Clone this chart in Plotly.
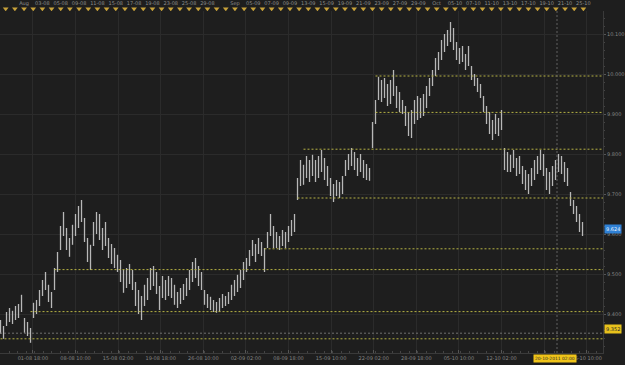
import plotly.graph_objects as go

# ---------------- data ----------------
highs = [9.385, 9.370, 9.405, 9.415, 9.408, 9.420, 9.425, 9.448, 9.390, 9.380,
         9.365, 9.428, 9.435, 9.460, 9.485, 9.505, 9.473, 9.455, 9.515, 9.555,
         9.620, 9.655, 9.615, 9.590, 9.623, 9.650, 9.670, 9.685, 9.640, 9.590,
         9.573, 9.630, 9.655, 9.650, 9.615, 9.630, 9.590, 9.575, 9.565, 9.548,
         9.535, 9.510, 9.515, 9.525, 9.510, 9.480, 9.460, 9.445, 9.473, 9.490,
         9.515, 9.520, 9.505, 9.470, 9.495, 9.485, 9.495, 9.490, 9.473, 9.455,
         9.465, 9.475, 9.490, 9.510, 9.530, 9.540, 9.520, 9.505, 9.460, 9.450,
         9.443, 9.435, 9.430, 9.440, 9.450, 9.445, 9.455, 9.473, 9.485, 9.498,
         9.510, 9.530, 9.540, 9.560, 9.585, 9.575, 9.590, 9.580, 9.565, 9.605,
         9.650, 9.620, 9.605, 9.595, 9.610, 9.605, 9.620, 9.635, 9.650, 9.740,
         9.785, 9.773, 9.795, 9.785, 9.798, 9.785, 9.795, 9.810, 9.790, 9.770,
         9.740, 9.725, 9.735, 9.730, 9.745, 9.785, 9.800, 9.815, 9.805, 9.790,
         9.800, 9.785, 9.775, 9.765, 9.880, 9.935, 9.993, 9.985, 9.990, 9.975,
         9.985, 10.010, 9.970, 9.955, 9.935, 9.920, 9.905, 9.910, 9.935, 9.945,
         9.940, 9.950, 9.970, 9.990, 10.010, 10.040, 10.055, 10.085, 10.100, 10.110,
         10.130, 10.115, 10.080, 10.065, 10.070, 10.050, 10.070, 10.020, 10.000, 9.990,
         9.975, 9.945, 9.920, 9.905, 9.885, 9.900, 9.890, 9.910, 9.815, 9.805,
         9.798, 9.810, 9.790, 9.795, 9.770, 9.760, 9.750, 9.765, 9.785, 9.795,
         9.810, 9.800, 9.765, 9.755, 9.770, 9.785, 9.800, 9.795, 9.780, 9.765,
         9.705, 9.685, 9.670, 9.650, 9.630]
lows = [9.350, 9.338, 9.370, 9.380, 9.375, 9.385, 9.390, 9.405, 9.353, 9.345,
        9.328, 9.390, 9.400, 9.420, 9.445, 9.460, 9.430, 9.415, 9.460, 9.505,
        9.560, 9.595, 9.560, 9.543, 9.573, 9.595, 9.615, 9.630, 9.580, 9.530,
        9.510, 9.570, 9.600, 9.585, 9.560, 9.570, 9.540, 9.525, 9.515, 9.505,
        9.480, 9.453, 9.465, 9.475, 9.460, 9.420, 9.400, 9.385, 9.420, 9.435,
        9.460, 9.470, 9.450, 9.410, 9.440, 9.435, 9.445, 9.440, 9.423, 9.415,
        9.425, 9.435, 9.445, 9.460, 9.480, 9.490, 9.470, 9.460, 9.423, 9.415,
        9.410, 9.405, 9.403, 9.405, 9.415, 9.420, 9.425, 9.435, 9.445, 9.455,
        9.465, 9.485, 9.505, 9.520, 9.545, 9.530, 9.550, 9.545, 9.505, 9.565,
        9.595, 9.565, 9.565, 9.560, 9.570, 9.565, 9.580, 9.595, 9.605, 9.685,
        9.720, 9.723, 9.740, 9.730, 9.745, 9.730, 9.740, 9.755, 9.735, 9.720,
        9.695, 9.680, 9.695, 9.690, 9.700, 9.745, 9.760, 9.770, 9.760, 9.745,
        9.755, 9.740, 9.735, 9.733, 9.815, 9.875, 9.935, 9.930, 9.940, 9.920,
        9.925, 9.945, 9.915, 9.905, 9.900, 9.870, 9.845, 9.840, 9.875, 9.885,
        9.890, 9.895, 9.915, 9.945, 9.970, 9.995, 10.010, 10.035, 10.055, 10.070,
        10.080, 10.060, 10.035, 10.025, 10.030, 10.010, 10.020, 9.985, 9.970, 9.955,
        9.940, 9.905, 9.875, 9.850, 9.835, 9.850, 9.845, 9.860, 9.760, 9.755,
        9.755, 9.765, 9.745, 9.750, 9.725, 9.710, 9.700, 9.720, 9.735, 9.750,
        9.760, 9.745, 9.710, 9.700, 9.720, 9.735, 9.755, 9.750, 9.730, 9.720,
        9.670, 9.650, 9.630, 9.605, 9.595]

level_prices = [9.995, 9.904, 9.812, 9.690, 9.563, 9.511, 9.406, 9.338]
level_start_bar = [125, 125, 101, 99, 88, 18, 10, 0]

bottom_tick_bars = [10.8, 25.0, 39.2, 53.4, 67.6, 81.8, 96.0, 110.2, 124.4,
                    138.6, 152.8, 167.0, 181.2, 195.4]
bottom_tick_text = ["01-08 18:00", "08-08 10:00", "15-08 02:00", "19-08 18:00",
                    "26-08 10:00", "02-09 02:00", "08-09 18:00", "15-09 10:00",
                    "22-09 02:00", "28-09 18:00", "05-10 10:00", "12-10 02:00",
                    "", "26-10 10:00"]

price_ticks = [9.4, 9.5, 9.6, 9.7, 9.8, 9.9, 10.0, 10.1]
price_tick_text = ["9.400", "9.500", "9.600", "9.700", "9.800", "9.900", "10.000", "10.100"]

top_label_days = [2, 4, 6, 8, 10, 12, 14, 16, 18, 20, 22, 25, 27, 29, 31, 33, 35,
                  37, 39, 41, 43, 45, 47, 49, 51, 53, 55, 57, 59, 61, 63]
top_label_text = ["Aug", "03-08", "05-08", "09-08", "11-08", "15-08", "17-08", "19-08",
                  "23-08", "25-08", "29-08", "Sep", "05-09", "07-09", "09-09", "13-09",
                  "15-09", "19-09", "21-09", "23-09", "27-09", "29-09", "Oct", "05-10",
                  "07-10", "11-10", "13-10", "17-10", "19-10", "21-10", "25-10"]
marker_days = list(range(64))

last_price = 9.624
cross_price = 9.352
cross_bar = 185.5
cross_label = "20-10-2011 02:00"

# ---------------- figure ----------------
BG = "#1e1e1e"
GRID = "#2b2b2b"
TXT = "#858585"
FONT = "DejaVu Sans"

x_range = [-0.17, 200.83]
y_range = [9.3025, 10.1575]

fig = go.Figure()

# price bars (high-low vertical lines)
bx, by = [], []
for i, (h, l) in enumerate(zip(highs, lows)):
    bx += [i, i, None]
    by += [h, l, None]
fig.add_trace(go.Scatter(x=bx, y=by, mode="lines",
                         line=dict(color="#b8b8b8", width=1.3),
                         hoverinfo="skip", showlegend=False))

# support / resistance levels
for p, s in zip(level_prices, level_start_bar):
    fig.add_trace(go.Scatter(x=[s, x_range[1]], y=[p, p], mode="lines",
                             line=dict(color="#b6b244", width=1, dash="2px,2px"),
                             hoverinfo="skip", showlegend=False))

# crosshair
fig.add_trace(go.Scatter(x=[x_range[0], x_range[1]], y=[cross_price, cross_price],
                         mode="lines", line=dict(color="#707070", width=1, dash="2px,2px"),
                         hoverinfo="skip", showlegend=False))
fig.add_trace(go.Scatter(x=[cross_bar, cross_bar], y=y_range,
                         mode="lines", line=dict(color="#606060", width=1, dash="2px,2px"),
                         hoverinfo="skip", showlegend=False))

# top date strip
fig.add_trace(go.Scatter(x=marker_days, y=[0.2] * len(marker_days), mode="markers",
                         marker=dict(symbol="triangle-down", size=5, color="#c8a23a",
                                     line=dict(width=0)),
                         xaxis="x2", yaxis="y2", hoverinfo="skip", showlegend=False))
fig.add_trace(go.Scatter(x=top_label_days, y=[0.66] * len(top_label_days), mode="text",
                         text=top_label_text,
                         textfont=dict(family=FONT, size=5, color="#8c8c8c"),
                         xaxis="x2", yaxis="y2", hoverinfo="skip", showlegend=False))

PLOT_H = 353.0
top_frac = 342.0 / PLOT_H

fig.update_layout(
    width=625, height=365,
    margin=dict(l=0, r=22, t=0, b=12),
    paper_bgcolor=BG, plot_bgcolor=BG,
    showlegend=False,
    font=dict(family=FONT, size=5, color=TXT),
    xaxis=dict(range=x_range, domain=[0, 1], tickvals=bottom_tick_bars,
               ticktext=bottom_tick_text, showgrid=True, gridcolor=GRID, gridwidth=1,
               zeroline=False, showline=True, linecolor="#3a3a3a",
               ticks="inside", ticklen=3, tickcolor="#555555",
               minor=dict(ticks="inside", ticklen=2, tickcolor="#444444", dtick=2.84,
                          showgrid=False),
               tickfont=dict(family=FONT, size=5, color=TXT), fixedrange=True),
    yaxis=dict(range=y_range, domain=[0, top_frac], side="right",
               tickvals=price_ticks, ticktext=price_tick_text,
               showgrid=True, gridcolor=GRID, zeroline=False,
               showline=True, linecolor="#3a3a3a", mirror=False,
               ticks="outside", ticklen=2, tickcolor="#555555",
               minor=dict(ticks="outside", ticklen=1, tickcolor="#444444", dtick=0.02,
                          showgrid=False),
               tickfont=dict(family=FONT, size=5, color=TXT), fixedrange=True),
    xaxis2=dict(range=[-0.622, 65.14], domain=[0, 1], anchor="y2", visible=False,
                fixedrange=True),
    yaxis2=dict(range=[0, 1], domain=[top_frac, 1], anchor="x2", visible=False,
                fixedrange=True),
)

# value boxes
fig.add_annotation(x=1, xref="paper", xanchor="left", xshift=1, y=last_price, yref="y",
                   yshift=-5, text=f"{last_price:.3f}", showarrow=False,
                   bgcolor="#2f80d4", font=dict(family=FONT, size=5, color="#e8f2ff"),
                   borderpad=1)
fig.add_annotation(x=1, xref="paper", xanchor="left", xshift=1, y=cross_price, yref="y",
                   yshift=4, text=f"{cross_price:.3f}", showarrow=False,
                   bgcolor="#e8c21c", font=dict(family=FONT, size=5, color="#2a2a2a"),
                   borderpad=1)
fig.add_annotation(x=cross_bar, xref="x", xanchor="center", xshift=-2, y=0, yref="paper",
                   yanchor="top", yshift=-1,
                   text=cross_label, showarrow=False,
                   bgcolor="#f0c419", font=dict(family=FONT, size=4.4, color="#2a2a2a"),
                   borderpad=1)

fig.write_html("out.html")
